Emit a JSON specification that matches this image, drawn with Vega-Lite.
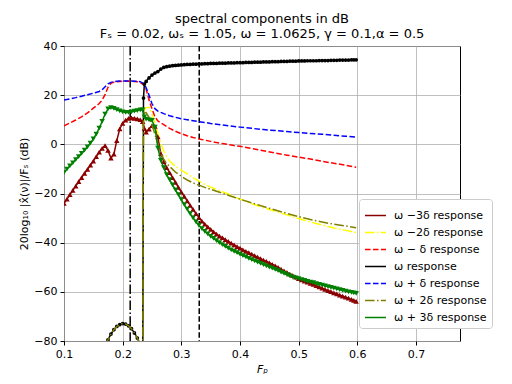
{
"$schema": "https://vega.github.io/schema/vega-lite/v6.json",
"width": 396, "height": 295,
"autosize": {"type": "none"},
"padding": {"left": 64, "top": 46, "right": 52, "bottom": 43},
"background": "white",
"title": {"text": ["spectral components in dB", "Fₛ = 0.02, ωₛ = 1.05, ω = 1.0625, γ = 0.1,α = 0.5"], "fontSize": 13, "font": "DejaVu Sans", "fontWeight": "normal", "color": "black", "frame": "group", "baseline": "bottom", "offset": -14, "lineHeight": 15, "anchor": "middle"},
"datasets": {"d": [
{"x":0.100,"a":-24.0,"g":-11.5,"r":7.5,"b":18.0},
{"x":0.105,"a":-22.3,"g":-10.1},
{"x":0.110,"a":-20.5,"g":-8.8,"r":8.7,"b":18.5},
{"x":0.115,"a":-18.7,"g":-7.5},
{"x":0.120,"a":-17.0,"g":-6.2,"r":9.9,"b":19.0},
{"x":0.125,"a":-15.2,"g":-5.0},
{"x":0.130,"a":-13.5,"g":-3.7,"r":11.2,"b":19.6},
{"x":0.135,"a":-11.8,"g":-2.4},
{"x":0.140,"a":-10.2,"g":-1.0,"r":12.8,"b":20.2},
{"x":0.145,"a":-8.5,"g":0.5},
{"x":0.150,"a":-6.8,"g":2.2,"r":14.7,"b":20.8},
{"x":0.155,"a":-5.0,"g":4.2},
{"x":0.160,"a":-3.2,"g":6.6,"r":16.6,"b":21.5},
{"x":0.165,"a":-1.6,"g":9.3,"r":18.0,"b":22.2},
{"x":0.170,"a":-0.5,"g":12.3,"k":-82,"o":-82,"r":20.2,"b":23.4},
{"x":0.175,"a":-2.5,"g":14.4,"k":-79.5,"o":-79.5,"r":23.2,"b":24.6},
{"x":0.180,"a":-5.6,"g":14.9,"k":-77.2,"o":-77.2,"r":24.8,"b":25.2},
{"x":0.185,"a":-4.0,"g":14.6,"k":-75.4,"o":-75.4,"r":25.3,"b":25.5},
{"x":0.190,"a":1.5,"g":14.1,"k":-74.1,"o":-74.1,"r":25.5,"b":25.7},
{"x":0.195,"a":6.3,"g":13.6,"k":-73.3,"o":-73.3,"r":25.6,"b":25.8},
{"x":0.200,"a":8.5,"g":13.2,"k":-72.9,"o":-72.9,"r":25.7,"b":25.8},
{"x":0.205,"a":9.8,"g":13.0,"k":-73.1,"o":-73.1,"r":25.7,"b":25.8},
{"x":0.210,"a":10.6,"g":13.0,"k":-73.8,"o":-73.8,"r":25.7,"b":25.8},
{"x":0.215,"a":10.8,"g":13.2,"k":-75.0,"o":-75.0,"r":25.7,"b":25.8},
{"x":0.220,"a":10.6,"g":13.5,"k":-76.7,"o":-76.7,"r":25.6,"b":25.7},
{"x":0.225,"a":10.4,"g":13.7,"k":-78.8,"o":-78.8,"r":25.5,"b":25.6},
{"x":0.230,"a":10.0,"g":14.0,"k":-81.5,"o":-81.5,"r":25.2,"b":25.5},
{"x":0.232,"k":-90,"o":-90},
{"x":0.234,"a":9.2,"g":14.0,"k":-110,"o":-110,"y":-110},
{"x":0.2355,"k":18.8,"o":12.0,"y":12.0},
{"x":0.237,"a":6.5,"g":11.2,"k":24.5,"o":12.8,"y":14.0,"r":24.0,"b":24.5},
{"x":0.240,"a":5.0,"g":10.3,"k":25.6,"o":12.9,"y":15.0,"r":22.5,"b":23.0},
{"x":0.245,"a":6.2,"g":9.9,"k":27.0,"o":11.0,"y":15.0,"r":18.0,"b":20.0},
{"x":0.250,"a":7.6,"g":9.7,"k":28.2,"o":8.0,"y":12.5,"r":14.5,"b":16.5},
{"x":0.255,"a":7.3,"g":7.0,"k":29.0,"o":4.0,"y":8.7,"r":11.2,"b":14.5},
{"x":0.260,"a":3.0,"g":-1.5,"k":29.6,"o":0.3,"y":4.5,"r":9.5,"b":13.5},
{"x":0.265,"a":-3.8,"g":-6.5,"k":30.6,"o":-3.5,"y":0.5,"r":8.7,"b":13.0},
{"x":0.270,"a":-7.0,"g":-9.5,"k":31.3,"o":-6.0,"y":-2.8,"r":8.0,"b":12.5},
{"x":0.275,"a":-9.5,"g":-12.3,"k":31.6,"o":-7.8,"y":-5.0},
{"x":0.280,"a":-11.5,"g":-14.4,"k":31.8,"o":-9.0,"y":-6.8,"r":6.5,"b":11.6},
{"x":0.285,"a":-13.5,"g":-16.5,"k":32.0},
{"x":0.290,"a":-15.5,"g":-18.5,"k":32.1,"o":-11.3,"y":-9.0,"r":5.3,"b":11.0},
{"x":0.295,"a":-17.5,"g":-20.5,"k":32.2},
{"x":0.300,"a":-19.4,"g":-22.5,"k":32.3,"o":-13.0,"y":-10.5,"r":4.3,"b":10.4},
{"x":0.305,"a":-21.2,"g":-24.5,"k":32.4},
{"x":0.310,"a":-23.0,"g":-26.4,"k":32.5,"o":-14.5,"y":-12.0,"r":3.5,"b":10.0},
{"x":0.315,"a":-24.8,"g":-28.2,"k":32.5},
{"x":0.320,"a":-26.5,"g":-29.9,"k":32.6,"o":-15.7,"y":-13.5,"r":2.8,"b":9.6},
{"x":0.325,"a":-28.2,"g":-31.5,"k":32.6},
{"x":0.330,"a":-29.8,"g":-33.0,"k":32.7,"o":-16.6,"y":-15.0,"r":2.2,"b":9.2},
{"x":0.335,"a":-31.2,"g":-34.3,"k":32.7},
{"x":0.340,"a":-32.5,"g":-35.4,"k":32.8,"o":-17.5,"y":-16.3,"r":1.7,"b":8.9},
{"x":0.345,"a":-33.6,"g":-36.4,"k":32.8},
{"x":0.350,"a":-34.6,"g":-37.4,"k":32.9,"o":-18.3,"y":-17.4,"r":1.2,"b":8.5},
{"x":0.355,"a":-35.6,"g":-38.3,"k":32.9},
{"x":0.360,"a":-36.5,"g":-39.2,"k":32.9,"o":-19.1,"y":-18.4,"r":0.7,"b":8.2},
{"x":0.365,"a":-37.3,"g":-40.0,"k":33.0},
{"x":0.370,"a":-38.0,"g":-40.8,"k":33.0,"o":-19.9,"y":-19.3,"r":0.3,"b":7.9},
{"x":0.375,"a":-38.8,"g":-41.5,"k":33.0},
{"x":0.380,"a":-39.5,"g":-42.2,"k":33.1,"o":-20.7,"y":-20.2,"r":-0.1,"b":7.6},
{"x":0.385,"a":-40.2,"g":-42.9,"k":33.1},
{"x":0.390,"a":-40.9,"g":-43.5,"k":33.1,"o":-21.5,"y":-21.2,"r":-0.5,"b":7.3},
{"x":0.395,"a":-41.6,"g":-44.1,"k":33.2},
{"x":0.400,"a":-42.2,"g":-44.7,"k":33.2,"o":-22.3,"y":-22.3,"r":-0.8,"b":7.0},
{"x":0.405,"a":-42.9,"g":-45.3,"k":33.2},
{"x":0.410,"a":-43.5,"g":-45.8,"k":33.3},
{"x":0.415,"a":-44.1,"g":-46.4,"k":33.3},
{"x":0.420,"a":-44.7,"g":-46.9,"k":33.3,"o":-23.8,"y":-24.1,"r":-1.7,"b":6.5},
{"x":0.425,"a":-45.3,"g":-47.4,"k":33.4},
{"x":0.430,"a":-45.9,"g":-47.9,"k":33.4},
{"x":0.435,"a":-46.5,"g":-48.4,"k":33.4},
{"x":0.440,"a":-47.1,"g":-48.9,"k":33.5,"o":-25.3,"y":-25.8,"r":-2.6,"b":6.0},
{"x":0.445,"a":-47.6,"g":-49.4,"k":33.5},
{"x":0.450,"a":-48.2,"g":-49.9,"k":33.5},
{"x":0.455,"a":-48.8,"g":-50.4,"k":33.6},
{"x":0.460,"a":-49.4,"g":-50.9,"k":33.6,"o":-26.7,"y":-27.2,"r":-3.5,"b":5.6},
{"x":0.465,"a":-50.1,"g":-51.4,"k":33.6},
{"x":0.470,"a":-50.8,"g":-52.0,"k":33.7},
{"x":0.475,"a":-51.5,"g":-52.5,"k":33.7},
{"x":0.480,"a":-52.1,"g":-53.0,"k":33.7,"o":-28.1,"y":-28.7,"r":-4.4,"b":5.2},
{"x":0.485,"a":-52.8,"g":-53.5,"k":33.8},
{"x":0.490,"a":-53.4,"g":-54.0,"k":33.8},
{"x":0.495,"a":-54.0,"g":-54.3,"k":33.8},
{"x":0.500,"a":-54.6,"g":-54.6,"k":33.9,"o":-29.4,"y":-30.2,"r":-5.2,"b":4.8},
{"x":0.505,"a":-55.1,"g":-55.0,"k":33.9},
{"x":0.510,"a":-55.6,"g":-55.3,"k":33.9},
{"x":0.515,"a":-56.1,"g":-55.7,"k":34.0},
{"x":0.520,"a":-56.6,"g":-56.0,"k":34.0,"o":-30.6,"y":-31.6,"r":-6.0,"b":4.4},
{"x":0.525,"a":-57.0,"g":-56.3,"k":34.0},
{"x":0.530,"a":-57.5,"g":-56.7,"k":34.0},
{"x":0.535,"a":-58.0,"g":-57.0,"k":34.1},
{"x":0.540,"a":-58.5,"g":-57.3,"k":34.1,"o":-31.6,"y":-32.8,"r":-6.9,"b":4.1},
{"x":0.545,"a":-59.0,"g":-57.6,"k":34.1},
{"x":0.550,"a":-59.5,"g":-57.9,"k":34.1},
{"x":0.555,"a":-59.9,"g":-58.2,"k":34.2},
{"x":0.560,"a":-60.4,"g":-58.5,"k":34.2,"o":-32.5,"y":-34.0,"r":-7.7,"b":3.7},
{"x":0.565,"a":-60.8,"g":-58.8,"k":34.2},
{"x":0.570,"a":-61.3,"g":-59.1,"k":34.3},
{"x":0.575,"a":-61.7,"g":-59.4,"k":34.3},
{"x":0.580,"a":-62.2,"g":-59.7,"k":34.3,"o":-33.2,"y":-35.0,"r":-8.5,"b":3.3},
{"x":0.585,"a":-62.6,"g":-60.0,"k":34.3},
{"x":0.590,"a":-63.1,"g":-60.2,"k":34.4},
{"x":0.594,"a":-63.5,"g":-60.4,"k":34.4},
{"x":0.598,"a":-63.9,"g":-60.6,"k":34.4,"o":-33.9,"y":-35.9,"r":-9.3,"b":2.9}
]},
"encoding": {
  "x": {"field": "x", "type": "quantitative", "scale": {"domain": [0.1, 0.775], "nice": false, "zero": false},
        "axis": {"values": [0.1,0.2,0.3,0.4,0.5,0.6,0.7], "format": ".1f", "title": "Fₚ", "titleFontStyle": "italic"}}
},
"layer": [
  {"data": {"values": [{"x": 0.2128}]}, "mark": {"type": "rule", "color": "black", "strokeWidth": 1.5, "strokeDash": [9.6, 2.4, 1.5, 2.4]}, "encoding": {"x": {"field": "x", "type": "quantitative"}}},
  {"data": {"values": [{"x": 0.3305}]}, "mark": {"type": "rule", "color": "black", "strokeWidth": 1.5, "strokeDash": [5.55, 2.4]}, "encoding": {"x": {"field": "x", "type": "quantitative"}}},
  {"data": {"name": "d"},
   "transform": [{"fold": ["a","y","r","k","b","o","g"], "as": ["s","v"]}, {"filter": "isValid(datum.v)"}, {"filter": {"field": "s", "oneOf": ["a","y","r"]}}],
   "mark": {"type": "line", "strokeWidth": 1.5, "clip": true},
   "encoding": {
     "y": {"field": "v", "type": "quantitative", "scale": {"domain": [-80, 40], "nice": false, "zero": false},
           "axis": {"values": [-80,-60,-40,-20,0,20,40], "title": "20log₁₀ |x̂(ν)|/Fₛ (dB)"}},
     "color": {"field": "s", "type": "nominal",
       "scale": {"domain": ["a","y","r","k","b","o","g"], "range": ["#8b0000","#ffff00","#ff0000","#000000","#0000ff","#808000","#008000"]},
       "legend": {"title": null, "orient": "none", "legendX": 295, "legendY": 153,
         "labelExpr": "{'a':'ω −3δ response','y':'ω −2δ response','r':'ω − δ response','k':'ω response','b':'ω + δ response','o':'ω + 2δ response','g':'ω + 3δ response'}[datum.label]"}},
     "strokeDash": {"field": "s", "type": "nominal",
       "scale": {"domain": ["a","y","r","k","b","o","g"], "range": [[1,0],[9.6,2.4,1.5,2.4],[5.55,2.4],[1,0],[5.55,2.4],[9.6,2.4,1.5,2.4],[1,0]]},
       "legend": {"title": null, "orient": "none", "legendX": 295, "legendY": 153,
         "labelExpr": "{'a':'ω −3δ response','y':'ω −2δ response','r':'ω − δ response','k':'ω response','b':'ω + δ response','o':'ω + 2δ response','g':'ω + 3δ response'}[datum.label]"}}
   }},
  {"data": {"name": "d"},
   "transform": [{"fold": ["a","y","r","k","b","o","g"], "as": ["s","v"]}, {"filter": "isValid(datum.v)"}, {"filter": {"field": "s", "oneOf": ["b","k"]}}],
   "mark": {"type": "line", "strokeWidth": 1.5, "clip": true},
   "encoding": {"y": {"field": "v", "type": "quantitative"}, "color": {"field": "s", "type": "nominal"}, "strokeDash": {"field": "s", "type": "nominal"}}},
  {"data": {"name": "d"}, "transform": [{"filter": "isValid(datum.a)"}],
   "mark": {"type": "point", "shape": "triangle-up", "filled": true, "color": "#8b0000", "size": 30, "opacity": 1, "clip": true},
   "encoding": {"y": {"field": "a", "type": "quantitative"}}},
  {"data": {"name": "d"}, "transform": [{"filter": "isValid(datum.k)"}],
   "mark": {"type": "circle", "color": "#000000", "size": 14, "opacity": 1, "clip": true},
   "encoding": {"y": {"field": "k", "type": "quantitative"}}},
  {"data": {"name": "d"},
   "transform": [{"fold": ["a","y","r","k","b","o","g"], "as": ["s","v"]}, {"filter": "isValid(datum.v)"}, {"filter": {"field": "s", "oneOf": ["o"]}}],
   "mark": {"type": "line", "strokeWidth": 1.5, "clip": true},
   "encoding": {"y": {"field": "v", "type": "quantitative"}, "color": {"field": "s", "type": "nominal"}, "strokeDash": {"field": "s", "type": "nominal"}}},
  {"data": {"name": "d"},
   "transform": [{"fold": ["a","y","r","k","b","o","g"], "as": ["s","v"]}, {"filter": "isValid(datum.v)"}, {"filter": {"field": "s", "oneOf": ["g"]}}],
   "mark": {"type": "line", "strokeWidth": 1.5, "clip": true},
   "encoding": {"y": {"field": "v", "type": "quantitative"}, "color": {"field": "s", "type": "nominal"}, "strokeDash": {"field": "s", "type": "nominal"}}},
  {"data": {"name": "d"}, "transform": [{"filter": "isValid(datum.g)"}],
   "mark": {"type": "point", "shape": "triangle-down", "filled": true, "color": "#008000", "size": 30, "opacity": 1, "clip": true},
   "encoding": {"y": {"field": "g", "type": "quantitative"}}}
],
"config": {
  "view": {"stroke": "black", "strokeWidth": 1},
  "axis": {"domain": false, "grid": true, "gridColor": "#b0b0b0", "gridWidth": 0.8, "tickColor": "black", "tickSize": 4, "labelColor": "black", "labelFont": "DejaVu Sans", "labelFontSize": 11, "labelPadding": 3, "labelFlush": false, "titleFont": "DejaVu Sans", "titleFontSize": 11, "titleFontWeight": "normal", "titleColor": "black"},
  "legend": {"fillColor": "white", "strokeColor": "#cccccc", "cornerRadius": 3, "padding": 5, "symbolType": "stroke", "symbolSize": 440, "symbolStrokeWidth": 1.5, "labelFont": "DejaVu Sans", "labelFontSize": 11, "labelColor": "black", "labelOffset": 7, "rowPadding": -3, "labelLimit": 200}
}
}
